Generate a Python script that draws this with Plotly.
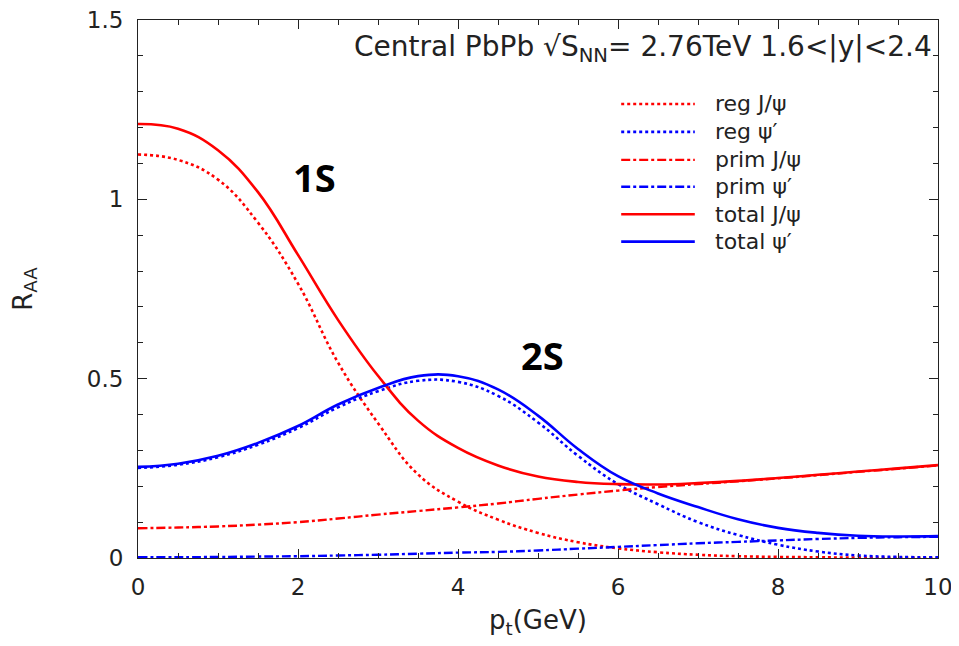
import plotly.graph_objects as go

# transverse momentum grid (GeV)
pt = [0, 0.5, 1, 1.5, 2, 2.5, 3, 3.5, 4, 4.5, 5, 5.5, 6, 6.5, 7, 7.5, 8, 8.5, 9, 9.5, 10]

reg_jpsi = [1.125, 1.11, 1.055, 0.935, 0.765, 0.545, 0.376, 0.233, 0.157, 0.107, 0.07, 0.044, 0.027, 0.016, 0.009, 0.005, 0.003, 0.002, 0.001, 0.0005, 0.0]
reg_psi2 = [0.251, 0.26, 0.281, 0.316, 0.362, 0.42, 0.465, 0.494, 0.491, 0.452, 0.378, 0.285, 0.206, 0.15, 0.10, 0.064, 0.037, 0.018, 0.007, 0.003, 0.002]
prim_jpsi = [0.083, 0.085, 0.088, 0.093, 0.10, 0.11, 0.121, 0.131, 0.141, 0.152, 0.165, 0.177, 0.188, 0.198, 0.206, 0.214, 0.222, 0.231, 0.24, 0.249, 0.258]
prim_psi2 = [0.002, 0.002, 0.003, 0.004, 0.005, 0.007, 0.009, 0.012, 0.015, 0.017, 0.021, 0.026, 0.031, 0.036, 0.041, 0.045, 0.049, 0.053, 0.056, 0.058, 0.059]
total_jpsi = [1.21, 1.197, 1.137, 1.02, 0.845, 0.664, 0.508, 0.383, 0.307, 0.258, 0.227, 0.212, 0.206, 0.205, 0.209, 0.215, 0.223, 0.232, 0.241, 0.25, 0.259]
total_psi2 = [0.254, 0.263, 0.285, 0.321, 0.368, 0.428, 0.474, 0.507, 0.507, 0.47, 0.397, 0.304, 0.228, 0.18, 0.142, 0.108, 0.084, 0.07, 0.062, 0.06, 0.061]

names = ["reg J/ψ", "reg ψ′", "prim J/ψ", "prim ψ′", "total J/ψ", "total ψ′"]
values = [reg_jpsi, reg_psi2, prim_jpsi, prim_psi2, total_jpsi, total_psi2]
colors = ["#ff0000", "#0000ff", "#ff0000", "#0000ff", "#ff0000", "#0000ff"]
dashes = ["dot", "dot", "dashdot", "dashdot", "solid", "solid"]
widths = [2.6, 2.6, 2.4, 2.4, 2.6, 2.6]

font_main = "DejaVu Sans, Verdana, sans-serif"
ink = "#222222"

fig = go.Figure()
for name, ys, col, dash, w in zip(names, values, colors, dashes, widths):
    fig.add_trace(go.Scatter(x=pt, y=ys, mode="lines", name=name, showlegend=False,
                             line=dict(color=col, dash=dash, width=w, shape="spline", smoothing=1.2)))

# legend drawn with long line samples like the original
leg_x0, leg_x1, leg_tx = 0.604, 0.696, 0.719
leg_y = [0.844, 0.792, 0.740, 0.690, 0.639, 0.588]
for name, col, dash, w, yy in zip(names, colors, dashes, widths, leg_y):
    fig.add_shape(type="line", xref="paper", yref="paper", x0=leg_x0, x1=leg_x1, y0=yy, y1=yy,
                  line=dict(color=col, dash=dash, width=w))
    fig.add_annotation(xref="paper", yref="paper", x=leg_tx, y=yy, text=name, showarrow=False,
                       xanchor="left", yanchor="middle",
                       font=dict(family=font_main, size=22, color=ink))

axis_common = dict(
    showline=True, linecolor=ink, linewidth=1, mirror="allticks",
    ticks="inside", ticklen=9, tickcolor=ink, showgrid=False, zeroline=False,
    tickfont=dict(family=font_main, size=23, color=ink), automargin=False,
    ticklabeloverflow="allow",
)
fig.update_xaxes(range=[0, 10], tickvals=[0, 2, 4, 6, 8, 10], ticklabelstandoff=8,
                 minor=dict(dtick=0.5, ticks="inside", ticklen=5, tickcolor=ink, showgrid=False),
                 title=dict(text="p<sub>t</sub>(GeV)", font=dict(family=font_main, size=26, color=ink), standoff=12),
                 **axis_common)
fig.update_yaxes(range=[0, 1.5], tickvals=[0, 0.5, 1, 1.5], ticktext=["0", "0.5", "1", "1.5"],
                 ticklabelstandoff=9,
                 minor=dict(dtick=0.1, ticks="inside", ticklen=5, tickcolor=ink, showgrid=False),
                 title=dict(text="R<sub>AA</sub>", font=dict(family=font_main, size=26, color=ink), standoff=50),
                 **axis_common)

fig.add_annotation(x=0.995, y=0.985, xref="paper", yref="paper", xanchor="right", yanchor="top",
                   text="Central PbPb √S<sub>NN</sub>= 2.76TeV 1.6<|y|<2.4", showarrow=False,
                   font=dict(family=font_main, size=28, color=ink))
fig.add_annotation(x=2.21, y=1.061, text="<b>1S</b>", showarrow=False, xanchor="center", yanchor="middle",
                   font=dict(family="Open Sans, sans-serif", size=38, color="black"))
fig.add_annotation(x=5.05, y=0.566, text="<b>2S</b>", showarrow=False, xanchor="center", yanchor="middle",
                   font=dict(family="Open Sans, sans-serif", size=38, color="black"))

# the page body adds an 8px offset, so margins are reduced by 8px on top/left
fig.update_layout(
    width=959, height=646,
    margin=dict(l=130, r=29, t=12, b=96),
    paper_bgcolor="white", plot_bgcolor="white",
    showlegend=False,
)

fig.write_html("out.html")
